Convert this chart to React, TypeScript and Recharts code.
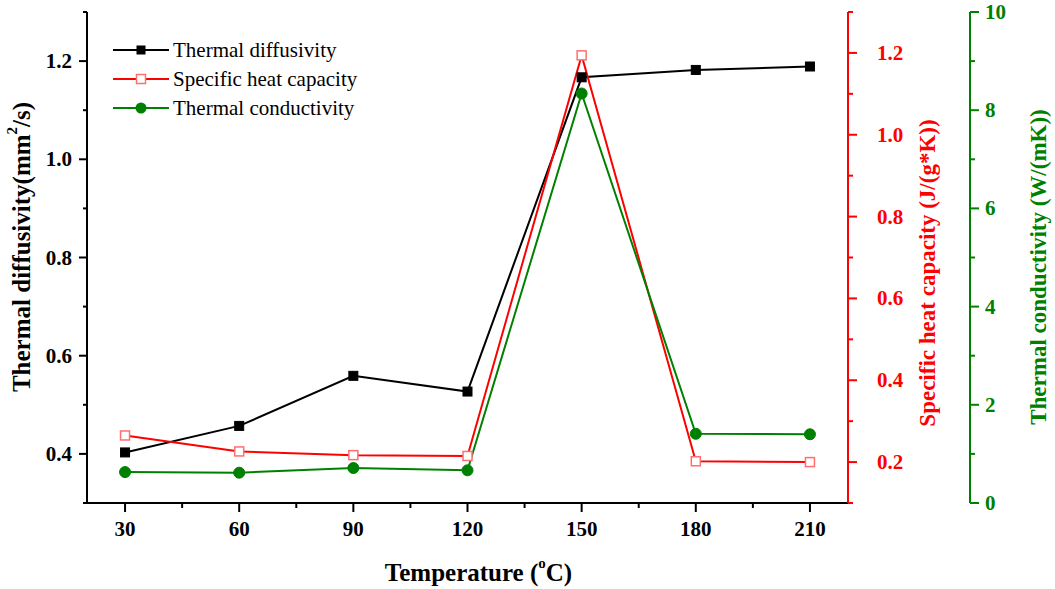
import React from 'react';
import { ComposedChart, Line, XAxis, YAxis, Legend } from 'recharts';

const temperatures = [30, 60, 90, 120, 150, 180, 210];
const diffusivity = [0.403, 0.457, 0.559, 0.527, 1.167, 1.182, 1.189];
const heatCapacity = [0.265, 0.226, 0.217, 0.215, 1.194, 0.202, 0.2];
const conductivity = [0.63, 0.617, 0.713, 0.666, 8.34, 1.41, 1.4];

const xTicks = [30, 45, 60, 75, 90, 105, 120, 135, 150, 165, 180, 195, 210];
const xMajor = [30, 60, 90, 120, 150, 180, 210];
const leftTicks = [0.3, 0.4, 0.5, 0.6, 0.7, 0.8, 0.9, 1.0, 1.1, 1.2, 1.3];
const leftMajor = [0.4, 0.6, 0.8, 1.0, 1.2];
const redTicks = [0.1, 0.2, 0.3, 0.4, 0.5, 0.6, 0.7, 0.8, 0.9, 1.0, 1.1, 1.2, 1.3];
const redMajor = [0.2, 0.4, 0.6, 0.8, 1.0, 1.2];
const greenTicks = [0, 1, 2, 3, 4, 5, 6, 7, 8, 9, 10];
const greenMajor = [0, 2, 4, 6, 8, 10];

const seriesNames = ['Thermal diffusivity', 'Specific heat capacity', 'Thermal conductivity'];

const data = temperatures.map((t, i) => ({
  t,
  d: diffusivity[i],
  c: heatCapacity[i],
  k: conductivity[i],
}));

const FONT = '"Liberation Serif", "Times New Roman", serif';
const BLACK = '#000000';
const RED = '#ff0000';
const GREEN = '#008000';
const RED_MARK = '#ff6f6f';
const TITLE_SIZE = 25;
const RIGHT_TITLE_SIZE = 23;
const TICK_SIZE = 21;

const isMajor = (list: number[], v: number) => list.some((m) => Math.abs(m - v) < 1e-6);

const XTick = (props: any) => {
  const { x, y, payload } = props;
  const major = isMajor(xMajor, payload.value);
  return (
    <g>
      <line x1={x} y1={y} x2={x} y2={y + (major ? 9 : 5)} stroke={BLACK} strokeWidth={2} />
      {major && (
        <text x={x} y={y + 26} textAnchor="middle" dominantBaseline="central" fontFamily={FONT} fontWeight="bold" fontSize={TICK_SIZE} fill={BLACK}>
          {payload.value}
        </text>
      )}
    </g>
  );
};

const LeftTick = (props: any) => {
  const { x, y, payload } = props;
  const major = isMajor(leftMajor, payload.value);
  return (
    <g>
      <line x1={x - (major ? 8 : 4)} y1={y} x2={x} y2={y} stroke={BLACK} strokeWidth={2} />
      {major && (
        <text x={x - 15} y={y} textAnchor="end" dominantBaseline="central" fontFamily={FONT} fontWeight="bold" fontSize={TICK_SIZE} fill={BLACK}>
          {payload.value.toFixed(1)}
        </text>
      )}
    </g>
  );
};

const makeRightTick = (majors: number[], color: string, gap: number, digits: number) => (props: any) => {
  const { x, y, payload } = props;
  const major = isMajor(majors, payload.value);
  return (
    <g>
      <line x1={x} y1={y} x2={x + (major ? 9 : 5)} y2={y} stroke={color} strokeWidth={2} />
      {major && (
        <text x={x + gap} y={y} textAnchor="start" dominantBaseline="central" fontFamily={FONT} fontWeight="bold" fontSize={TICK_SIZE} fill={color}>
          {payload.value.toFixed(digits)}
        </text>
      )}
    </g>
  );
};

const RedTick = makeRightTick(redMajor, RED, 29, 1);
const GreenTick = makeRightTick(greenMajor, GREEN, 15, 0);

const SquareDot = (props: any) => {
  const { cx, cy, index } = props;
  if (cx == null || cy == null) return <g key={`sd-${index}`} />;
  return <rect key={`sd-${index}`} x={cx - 4.5} y={cy - 4.5} width={9} height={9} fill={BLACK} stroke={BLACK} strokeWidth={1} />;
};
const HollowSquareDot = (props: any) => {
  const { cx, cy, index } = props;
  if (cx == null || cy == null) return <g key={`hd-${index}`} />;
  return <rect key={`hd-${index}`} x={cx - 4.5} y={cy - 4.5} width={9} height={9} fill="#ffffff" stroke={RED_MARK} strokeWidth={1.5} />;
};
const CircleDot = (props: any) => {
  const { cx, cy, index } = props;
  if (cx == null || cy == null) return <g key={`cd-${index}`} />;
  return <circle key={`cd-${index}`} cx={cx} cy={cy} r={5.5} fill={GREEN} stroke={GREEN} strokeWidth={1} />;
};

const rotatedTitle = (cx: number, cy: number, color: string, size: number, children: React.ReactNode) => (
  <text
    x={cx}
    y={cy}
    transform={`rotate(-90, ${cx}, ${cy})`}
    textAnchor="middle"
    dominantBaseline="central"
    fontFamily={FONT}
    fontWeight="bold"
    fontSize={size}
    fill={color}
  >
    {children}
  </text>
);

const LeftTitle = (props: any) => {
  const vb = props.viewBox;
  const cx = vb.x + 21;
  const cy = 247;
  return rotatedTitle(
    cx,
    cy,
    BLACK,
    TITLE_SIZE,
    <>
      Thermal diffusivity(mm<tspan dy={-9} fontSize={15}>2</tspan>
      <tspan dy={9}>/s)</tspan>
    </>
  );
};

const RedTitle = (props: any) => {
  const vb = props.viewBox;
  return rotatedTitle(vb.x + 79, 273, RED, RIGHT_TITLE_SIZE, 'Specific heat capacity (J/(g*K))');
};

const GreenTitle = (props: any) => {
  const vb = props.viewBox;
  return rotatedTitle(vb.x + 68, 267, GREEN, RIGHT_TITLE_SIZE, 'Thermal conductivity (W/(mK))');
};

const XTitle = (props: any) => {
  const vb = props.viewBox;
  const cx = vb.x + vb.width / 2 + 11;
  return (
    <text x={cx} y={572} textAnchor="middle" dominantBaseline="central" fontFamily={FONT} fontWeight="bold" fontSize={TITLE_SIZE} fill={BLACK}>
      Temperature (<tspan dy={-9} fontSize={15}>o</tspan>
      <tspan dy={9}>C)</tspan>
    </text>
  );
};

const legendStyles = [
  { color: BLACK, marker: 'square' },
  { color: RED, marker: 'hollow' },
  { color: GREEN, marker: 'circle' },
];

const LegendContent = () => (
  <div style={{ fontFamily: FONT, fontSize: 21, color: BLACK }}>
    {seriesNames.map((name, i) => {
      const st = legendStyles[i];
      return (
        <div key={name} style={{ display: 'flex', alignItems: 'center', height: 29, whiteSpace: 'nowrap' }}>
          <svg width={60} height={20} style={{ display: 'block' }}>
            <line x1={0} y1={10} x2={56} y2={10} stroke={st.color} strokeWidth={2} />
            {st.marker === 'square' && <rect x={23.5} y={5.5} width={9} height={9} fill={BLACK} />}
            {st.marker === 'hollow' && <rect x={23.5} y={5.5} width={9} height={9} fill="#fff" stroke={RED_MARK} strokeWidth={1.5} />}
            {st.marker === 'circle' && <circle cx={28} cy={10} r={5.5} fill={GREEN} />}
          </svg>
          <span style={{ lineHeight: '20px' }}>{name}</span>
        </div>
      );
    })}
  </div>
);

export default function App() {
  return (
    <div style={{ position: 'absolute', left: 0, top: 0, width: 1055, height: 589, background: '#fff' }}>
      <ComposedChart width={1055} height={589} data={data} margin={{ top: 12, right: 0, bottom: 0, left: 0 }}>
        <XAxis
          dataKey="t"
          type="number"
          domain={[20, 220]}
          ticks={xTicks}
          interval={0}
          height={86}
          tickSize={0}
          tickMargin={0}
          tickLine={false}
          axisLine={{ stroke: BLACK, strokeWidth: 2 }}
          tick={XTick}
          label={{ content: XTitle }}
          allowDataOverflow
        />
        <YAxis
          yAxisId="a_left"
          orientation="left"
          type="number"
          domain={[0.3, 1.3]}
          ticks={leftTicks}
          interval={0}
          width={87}
          tickSize={0}
          tickMargin={0}
          tickLine={false}
          axisLine={{ stroke: BLACK, strokeWidth: 2 }}
          tick={LeftTick}
          label={{ content: LeftTitle }}
          allowDataOverflow
        />
        <YAxis
          yAxisId="b_right_red"
          orientation="right"
          type="number"
          domain={[0.1, 1.3]}
          ticks={redTicks}
          interval={0}
          width={122}
          tickSize={0}
          tickMargin={0}
          tickLine={false}
          axisLine={{ stroke: RED, strokeWidth: 2 }}
          tick={RedTick}
          label={{ content: RedTitle }}
          allowDataOverflow
        />
        <YAxis
          yAxisId="c_right_green"
          orientation="right"
          type="number"
          domain={[0, 10]}
          ticks={greenTicks}
          interval={0}
          width={85}
          tickSize={0}
          tickMargin={0}
          tickLine={false}
          axisLine={{ stroke: GREEN, strokeWidth: 2 }}
          tick={GreenTick}
          label={{ content: GreenTitle }}
          allowDataOverflow
        />
        <Legend
          layout="vertical"
          align="center"
          verticalAlign="middle"
          content={LegendContent}
          wrapperStyle={{ left: 113, top: 35, width: 'auto' }}
        />
        <Line yAxisId="a_left" dataKey="d" name={seriesNames[0]} stroke={BLACK} strokeWidth={2} dot={SquareDot} activeDot={false} isAnimationActive={false} />
        <Line yAxisId="b_right_red" dataKey="c" name={seriesNames[1]} stroke={RED} strokeWidth={2} dot={HollowSquareDot} activeDot={false} isAnimationActive={false} />
        <Line yAxisId="c_right_green" dataKey="k" name={seriesNames[2]} stroke={GREEN} strokeWidth={2} dot={CircleDot} activeDot={false} isAnimationActive={false} />
      </ComposedChart>
    </div>
  );
}
